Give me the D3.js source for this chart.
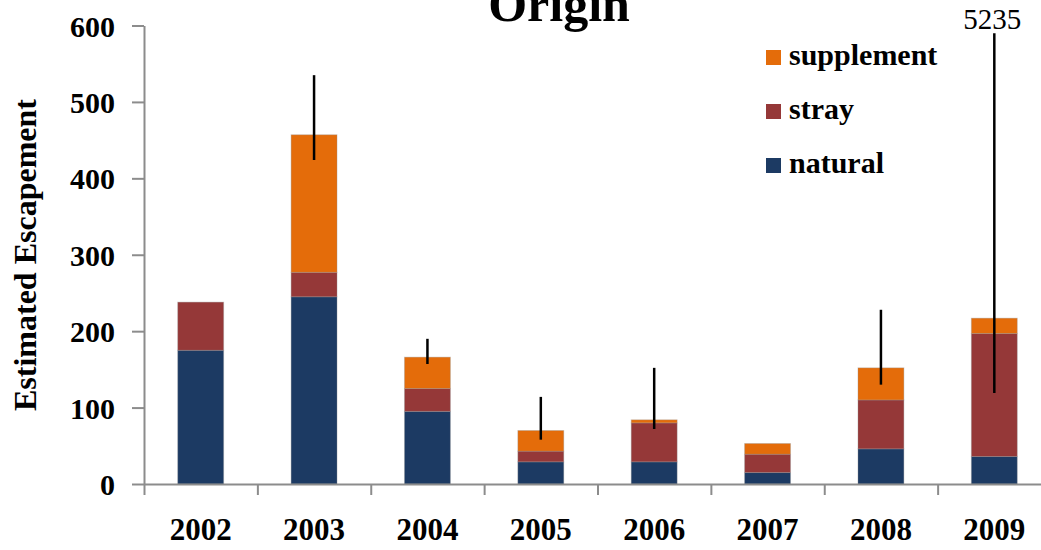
<!DOCTYPE html>
<html>
<head>
<meta charset="utf-8">
<script src="https://cdn.jsdelivr.net/npm/d3@7"></script>
<style>
  body { margin: 0; background: #fff; }
  text { font-family: "Liberation Serif", "Times New Roman", serif; }
</style>
</head>
<body>
<svg id="chart" width="1041" height="550"></svg>
<script>
// Data
const years = ["2002", "2003", "2004", "2005", "2006", "2007", "2008", "2009"];
const natural = [175, 245, 95, 29, 29, 15, 46, 36];
const stray = [63, 32, 30, 14, 51, 24, 64, 161];
const supplement = [0, 180, 41, 27, 4, 14, 42, 20];
const errLow = [null, 424, 157, 58, 72, null, 130, 119];
const errHigh = [null, 535, 190, 114, 152, null, 228, 5235];
const yTicks = [0, 100, 200, 300, 400, 500, 600];
const seriesNames = ["natural", "stray", "supplement"];
const colors = { natural: "#1c3a63", stray: "#953838", supplement: "#e46c0a" };

const svg = d3.select("#chart");

// Scales
const y = d3.scaleLinear().domain([0, 600]).range([484, 25.5]);
const x = d3.scaleBand().domain(years).range([144, 1051])
    .paddingInner(0.595).paddingOuter(0.2975);
const xEdge = d3.scaleLinear().domain([0, years.length]).range([144, 1051]);

// Stack the three origins
const rows = years.map((yr, i) => ({
    year: yr, natural: natural[i], stray: stray[i], supplement: supplement[i]
}));
const stacked = d3.stack().keys(seriesNames)(rows);

svg.append("g").selectAll("g")
    .data(stacked)
    .enter().append("g")
    .attr("fill", d => colors[d.key])
    .selectAll("rect")
    .data(d => d)
    .enter().append("rect")
    .attr("x", d => x(d.data.year))
    .attr("y", d => y(d[1]))
    .attr("width", x.bandwidth())
    .attr("height", d => y(d[0]) - y(d[1]))
    .style("stroke", "rgba(150,150,150,0.35)")
    .style("stroke-width", 1);

// Error bars (2009 upper value runs off the top of the plot)
const capTop = 590;
const errData = years.map((yr, i) => ({ year: yr, lo: errLow[i], hi: errHigh[i] }))
    .filter(d => d.lo !== null);

svg.append("g").selectAll("line")
    .data(errData)
    .enter().append("line")
    .attr("x1", d => x(d.year) + x.bandwidth() / 2)
    .attr("x2", d => x(d.year) + x.bandwidth() / 2)
    .attr("y1", d => y(d.lo))
    .attr("y2", d => y(Math.min(d.hi, capTop)))
    .style("stroke", "#000")
    .style("stroke-width", 2.5);

// Label for the clipped error bar
const offChart = errData.filter(d => d.hi > capTop);
svg.append("g").selectAll("text")
    .data(offChart)
    .enter().append("text")
    .attr("x", d => x(d.year) + x.bandwidth() / 2 - 2)
    .attr("y", 29)
    .attr("text-anchor", "middle")
    .style("font-size", "29px")
    .text(d => d.hi);

// Y axis
const yAxis = svg.append("g")
    .attr("transform", "translate(144,0)")
    .call(d3.axisLeft(y).tickValues(yTicks).tickSize(12).tickPadding(17).tickSizeOuter(0));
yAxis.select(".domain").style("stroke", "#8c8c8c").style("stroke-width", 2);
yAxis.selectAll(".tick line").style("stroke", "#8c8c8c").style("stroke-width", 2);
yAxis.selectAll(".tick text")
    .attr("dy", "0.35em")
    .style("font-size", "30px")
    .style("font-weight", "bold")
    .style("fill", "#000");

// X axis line and boundary ticks
const xAxis = svg.append("g")
    .attr("transform", "translate(0,484)")
    .call(d3.axisBottom(xEdge).tickValues(d3.range(0, years.length + 1)).tickSize(11).tickFormat("").tickSizeOuter(0));
xAxis.select(".domain").style("stroke", "#8c8c8c").style("stroke-width", 2);
xAxis.selectAll(".tick line").style("stroke", "#8c8c8c").style("stroke-width", 2);

// X labels
const xLabels = svg.append("g")
    .attr("transform", "translate(0,484)")
    .call(d3.axisBottom(x).tickSize(0).tickPadding(34));
xLabels.select(".domain").remove();
xLabels.selectAll(".tick text")
    .style("font-size", "31px")
    .style("font-weight", "bold")
    .style("fill", "#000");

// Y axis title
svg.append("text")
    .attr("transform", "translate(36,255) rotate(-90)")
    .attr("text-anchor", "middle")
    .style("font-size", "32px")
    .style("font-weight", "bold")
    .text("Estimated Escapement");

// Title (partly cut off at the top)
svg.append("text")
    .attr("x", 559)
    .attr("y", 21)
    .attr("text-anchor", "middle")
    .style("font-size", "50px")
    .style("font-weight", "bold")
    .text("Origin");

// Legend
const legendItems = ["supplement", "stray", "natural"];
const legend = svg.append("g").attr("transform", "translate(766,0)");
const item = legend.selectAll("g")
    .data(legendItems)
    .enter().append("g")
    .attr("transform", (d, i) => `translate(0,${65 + i * 54})`);
item.append("rect")
    .attr("x", 0).attr("y", -15)
    .attr("width", 15).attr("height", 15)
    .attr("fill", d => colors[d]);
item.append("text")
    .attr("x", 23).attr("y", 0)
    .style("font-size", "30px")
    .style("font-weight", "bold")
    .text(d => d);
</script>
</body>
</html>
